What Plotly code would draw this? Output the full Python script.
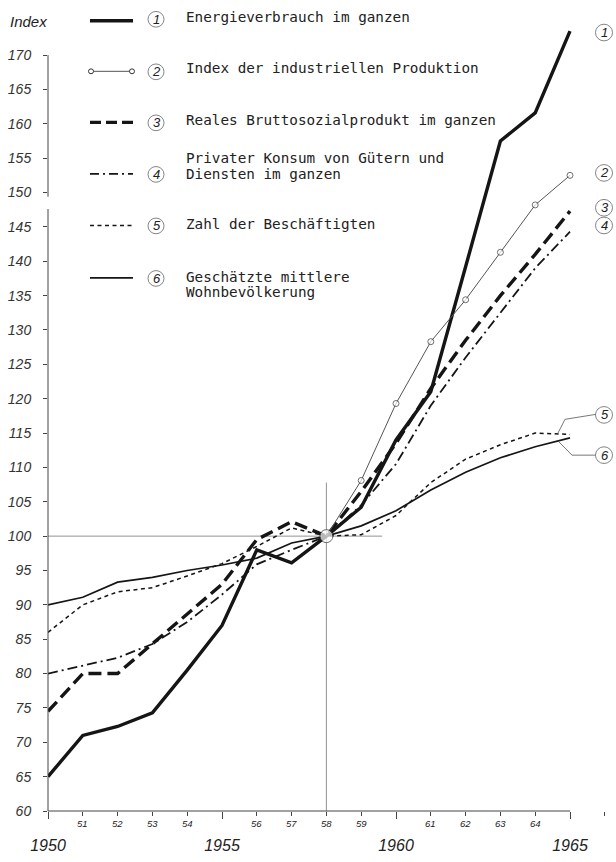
import plotly.graph_objects as go

# ---------------- data ----------------
years = list(range(1950, 1966))
energie = [65, 71, 72.3, 74.3, 80.5, 87, 98, 96.1, 100, 104.2, 114, 121, 139.2, 157.5, 161.6, 173.5]
ind_years = list(range(1958, 1966))
industrie = [100, 108.1, 119.3, 128.3, 134.4, 141.3, 148.2, 152.5]
bsp = [74.5, 80, 80, 84.3, 88.6, 93, 99.5, 102.1, 100, 106.5, 113.5, 121.5, 128.5, 135, 141, 147.3]
konsum = [80, 81.1, 82.3, 84.3, 87.5, 91.5, 95.9, 98, 100, 104.5, 110.5, 119, 126, 132.5, 139, 144.3]
beschaeftigte = [86, 90, 91.9, 92.5, 94.2, 96, 98.5, 101.2, 100, 100.2, 103, 107.8, 111.2, 113.3, 115, 114.8]
bevoelkerung = [90, 91.1, 93.3, 94, 95, 95.8, 96.8, 99, 100, 101.5, 103.7, 106.7, 109.3, 111.4, 113, 114.3]

y_ticks = list(range(60, 171, 5))
major_years = [1950, 1955, 1960, 1965]
minor_labels = {y: str(y)[2:] for y in years if y not in major_years}

legend_items = [
    ("1", ["Energieverbrauch im ganzen"]),
    ("2", ["Index der industriellen Produktion"]),
    ("3", ["Reales Bruttosozialprodukt im ganzen"]),
    ("4", ["Privater Konsum von Gütern und", "Diensten im ganzen"]),
    ("5", ["Zahl der Beschäftigten"]),
    ("6", ["Geschätzte mittlere", "Wohnbevölkerung"]),
]

BASE_YEAR = 1958
BASE_INDEX = 100

# ---------------- geometry ----------------
W, H = 616, 862
PLOT_L, PLOT_R, PLOT_T, PLOT_B = 48, 608, 8, 826
ML, MR, MT, MB = PLOT_L, W - PLOT_R, PLOT_T, H - PLOT_B
PW, PH = PLOT_R - PLOT_L, PLOT_B - PLOT_T
PX_PER_YEAR = 34.8
PX_PER_UNIT = 7.0
XR = [1950, 1950 + PW / PX_PER_YEAR]
YR = [60, 60 + PH / PX_PER_UNIT]


def px(xp, yp):
    """pixel -> paper"""
    return (xp - PLOT_L) / PW, (PLOT_B - yp) / PH


def dx(year):
    return (year - XR[0]) / (XR[1] - XR[0])


def dy(v):
    return (v - YR[0]) / (YR[1] - YR[0])


INK = "#151515"
fig = go.Figure()

fig.add_trace(go.Scatter(x=years, y=bevoelkerung, mode="lines",
                         line=dict(color=INK, width=1.7), name="6"))
fig.add_trace(go.Scatter(x=years, y=beschaeftigte, mode="lines",
                         line=dict(color=INK, width=1.5, dash="4px,3.5px"), name="5"))
fig.add_trace(go.Scatter(x=years, y=konsum, mode="lines",
                         line=dict(color=INK, width=1.8, dash="10px,4px,2px,4px"), name="4"))
fig.add_trace(go.Scatter(x=years, y=bsp, mode="lines",
                         line=dict(color=INK, width=3.4, dash="13px,6px"), name="3"))
fig.add_trace(go.Scatter(x=years, y=energie, mode="lines",
                         line=dict(color=INK, width=3.4), name="1"))
fig.add_trace(go.Scatter(x=ind_years, y=industrie, mode="lines+markers",
                         line=dict(color="#555", width=1),
                         marker=dict(symbol="circle", color="white",
                                     size=[13] + [6] * (len(ind_years) - 1),
                                     line=dict(color="#333", width=1)),
                         name="2"))

shapes = []
# axis lines
shapes.append(dict(type="line", xref="paper", yref="paper", x0=0, x1=0,
                   y0=dy(60), y1=dy(147.6), line=dict(color="#444", width=1)))
shapes.append(dict(type="line", xref="paper", yref="paper", x0=0, x1=0,
                   y0=dy(149.4), y1=dy(170), line=dict(color="#444", width=1)))
shapes.append(dict(type="line", xref="paper", yref="paper", x0=dx(1950), x1=dx(1965),
                   y0=0, y1=0, line=dict(color="#444", width=1)))
# base reference cross
shapes.append(dict(type="line", xref="x", yref="y", x0=1950, x1=1959.6,
                   y0=BASE_INDEX, y1=BASE_INDEX, line=dict(color="#777", width=0.8), layer="below"))
shapes.append(dict(type="line", xref="x", yref="y", x0=BASE_YEAR, x1=BASE_YEAR,
                   y0=60, y1=107.8, line=dict(color="#777", width=0.8), layer="below"))

annotations = []
# legend
leg_y = [21, 72.5, 124.5, 177, 229.5, 283]
text_y = [[17], [69], [122], [161, 177], [228], [282, 297.5]]
styles = [
    dict(width=3.4, dash="solid"),
    dict(width=1, dash="solid", color="#555"),
    dict(width=3.4, dash="11px,5px"),
    dict(width=1.8, dash="9px,4px,2px,4px"),
    dict(width=1.5, dash="4px,3.5px"),
    dict(width=1.8, dash="solid"),
]
for i, ((num, lines), ly, ty, st) in enumerate(zip(legend_items, leg_y, text_y, styles)):
    x0, y0 = px(90, ly)
    x1, _ = px(133, ly)
    shapes.append(dict(type="line", xref="paper", yref="paper", x0=x0, x1=x1, y0=y0, y1=y0,
                       line=dict(color=st.get("color", INK), width=st["width"], dash=st["dash"])))
    if i == 1:
        for cx in (91, 132):
            a0, b0 = px(cx - 2.5, ly - 2.5)
            a1, b1 = px(cx + 2.5, ly + 2.5)
            shapes.append(dict(type="circle", xref="paper", yref="paper", x0=a0, x1=a1,
                               y0=b0, y1=b1, fillcolor="white", line=dict(color="#333", width=1)))
    cy = ly - 1.5 if i == 0 else ly + 0.5
    a0, b0 = px(156 - 8, cy - 8)
    a1, b1 = px(156 + 8, cy + 8)
    shapes.append(dict(type="circle", xref="paper", yref="paper", x0=a0, x1=a1, y0=b0, y1=b1,
                       line=dict(color="#666", width=0.8)))
    ax, ay = px(156.5, cy)
    annotations.append(dict(xref="paper", yref="paper", x=ax, y=ay, text=num, showarrow=False,
                            xanchor="center", yanchor="middle",
                            font=dict(family="Liberation Sans", size=13, style="italic", color="#222")))
    for t, yy in zip(lines, ty):
        tx, tyy = px(184, yy)
        annotations.append(dict(xref="paper", yref="paper", x=tx, y=tyy, text=t, showarrow=False,
                                xanchor="left", yanchor="middle",
                                font=dict(family="DejaVu Sans Mono", size=14.3, color="#222")))

# right-hand circled labels
right_labels = [("1", 33), ("2", 176), ("3", 211.5), ("4", 229.5), ("5", 422.5), ("6", 463.5)]
for num, ry in right_labels:
    a0, b0 = px(604 - 8.5, ry - 8.5)
    a1, b1 = px(604 + 8.5, ry + 8.5)
    shapes.append(dict(type="circle", xref="paper", yref="paper", x0=a0, x1=a1, y0=b0, y1=b1,
                       line=dict(color="#666", width=0.8)))
    ax, ay = px(604.5, ry)
    annotations.append(dict(xref="paper", yref="paper", x=ax, y=ay, text=num, showarrow=False,
                            xanchor="center", yanchor="middle",
                            font=dict(family="Liberation Sans", size=13, style="italic", color="#222")))


def ppath(points):
    s = ""
    for k, (xp, yp) in enumerate(points):
        a, b = px(xp, yp)
        s += ("M" if k == 0 else "L") + f"{a:.5f},{b:.5f}"
    return s


shapes.append(dict(type="path", xref="paper", yref="paper",
                   path=ppath([(558, 441), (565, 427), (595.5, 422)]),
                   line=dict(color="#555", width=0.8)))
shapes.append(dict(type="path", xref="paper", yref="paper",
                   path=ppath([(558, 449), (572, 463.5), (595.5, 463.5)]),
                   line=dict(color="#555", width=0.8)))

# "Index" title
ix, iy = px(8, 22)
annotations.append(dict(xref="paper", yref="paper", x=ix, y=iy, text="Index", showarrow=False,
                        xanchor="left", yanchor="middle",
                        font=dict(family="Liberation Sans", size=15, style="italic", color="#222")))

# small year labels
_, sy = px(0, 839)
for yr, lab in minor_labels.items():
    annotations.append(dict(xref="x", yref="paper", x=yr, y=sy, text=lab, showarrow=False,
                            xanchor="center", yanchor="middle",
                            font=dict(family="Liberation Sans", size=9.5, style="italic", color="#222")))

fig.update_layout(
    width=W, height=H,
    margin=dict(l=ML, r=MR, t=MT, b=MB, pad=0),
    paper_bgcolor="white", plot_bgcolor="white",
    showlegend=False,
    shapes=shapes, annotations=annotations,
    xaxis=dict(range=XR, tickmode="array", tickvals=major_years,
               ticktext=[str(y) for y in major_years],
               ticks="outside", ticklen=7, tickwidth=1, tickcolor="#444",
               minor=dict(tickmode="linear", tick0=1950, dtick=1, ticks="outside",
                          ticklen=4, tickwidth=1, tickcolor="#444", showgrid=False),
               showline=False, showgrid=False, zeroline=False,
               ticklabelstandoff=13,
               tickfont=dict(family="Liberation Sans", size=16, style="italic", color="#222")),
    yaxis=dict(range=YR, tickmode="array", tickvals=y_ticks,
               ticks="outside", ticklen=4, tickwidth=1, tickcolor="#444",
               showline=False, showgrid=False, zeroline=False,
               ticklabelstandoff=9,
               tickfont=dict(family="Liberation Sans", size=14, style="italic", color="#333")),
)

# remove the browser's default 8px page margin so the figure fills the window exactly
fig.write_html(
    "out.html",
    config={"staticPlot": True, "displayModeBar": False},
    post_script="document.documentElement.style.overflow='hidden';"
                "document.body.style.margin='0';document.body.style.overflow='hidden';",
)
